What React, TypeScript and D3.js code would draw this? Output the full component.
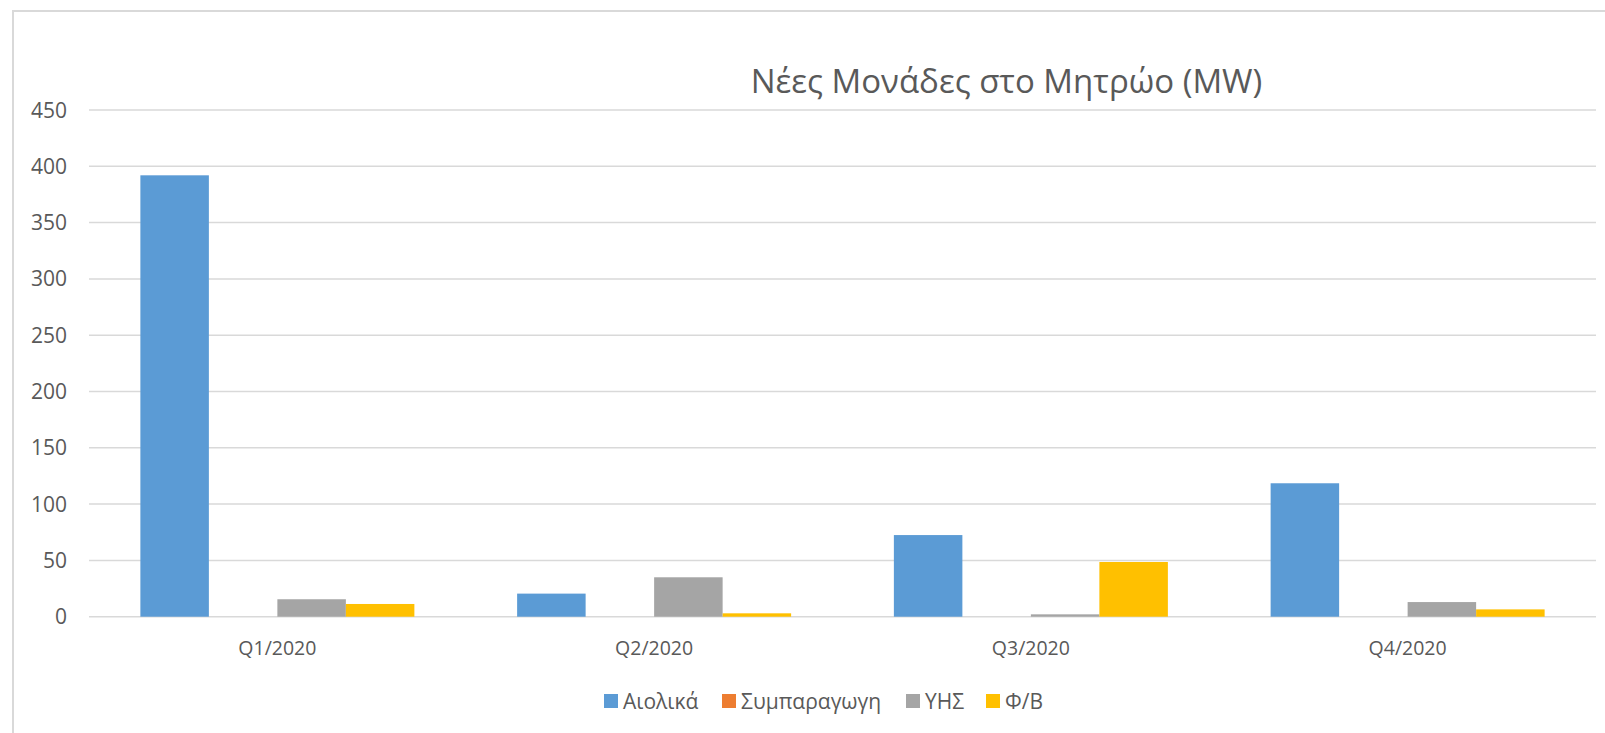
import React from 'react';
import * as d3 from 'd3';

const categories = ['Q1/2020', 'Q2/2020', 'Q3/2020', 'Q4/2020'];
const seriesNames = ['Αιολικά', 'Συμπαραγωγη', 'ΥΗΣ', 'Φ/Β'];
const seriesColors = ['#5B9BD5', '#ED7D31', '#A5A5A5', '#FFC000'];
const aiolika = [392, 20.5, 72.5, 118.5];
const symparagogi = [0, 0, 0, 0];
const yhs = [15.5, 35, 2.1, 13];
const fb = [11.3, 3, 48.6, 6.5];
const yTicks = [0, 50, 100, 150, 200, 250, 300, 350, 400, 450];

const values = [aiolika, symparagogi, yhs, fb];

const W = 1605;
const H = 733;
const dim = { l: 89, r: 1596, t: 110, b: 616.7 };
const FONT = '"Open Sans", sans-serif';
const TEXT = '#595959';

const App = () => {
	const x0 = d3.scaleBand().domain(categories).range([dim.l, dim.r]);
	const x1 = d3.scaleBand().domain(seriesNames).range([0, x0.bandwidth()]).paddingInner(0).paddingOuter(0.75);
	const y = d3.scaleLinear().domain([0, 450]).range([dim.b, dim.t]);

	// legend swatch positions
	const legendX = [604, 722, 906, 986];

	return (
		<svg width={W} height={H} style={{ position: 'absolute', left: 0, top: 0 }} fontFamily={FONT}>
			<rect x={0} y={0} width={W} height={H} fill="#fff" />
			<line x1={13} x2={W} y1={11} y2={11} stroke="#D9D9D9" strokeWidth={2} />
			<line x1={13} x2={13} y1={10} y2={H} stroke="#D9D9D9" strokeWidth={2} />

			<text x={1006.5} y={93} textAnchor="middle" fontSize={33} fill={TEXT}>
				Νέες Μονάδες στο Μητρώο (MW)
			</text>

			{yTicks.map((t) => (
				<g key={t}>
					<line x1={dim.l} x2={dim.r} y1={y(t)} y2={y(t)} stroke="#D9D9D9" strokeWidth={1.5} />
					<text x={67} y={y(t)} dy="0.36em" textAnchor="end" fontSize={21} fill={TEXT}>
						{t}
					</text>
				</g>
			))}

			{categories.map((c, ci) => (
				<g key={c}>
					{seriesNames.map((s, si) => (
						<rect
							key={s}
							x={x0(c) + x1(s)}
							y={y(values[si][ci])}
							width={x1.bandwidth()}
							height={dim.b - y(values[si][ci])}
							fill={seriesColors[si]}
						/>
					))}
					<text x={x0(c) + x0.bandwidth() / 2} y={655} textAnchor="middle" fontSize={19.5} fill={TEXT}>
						{c}
					</text>
				</g>
			))}

			{seriesNames.map((s, i) => (
				<g key={s} transform={`translate(${legendX[i]}, 694)`}>
					<rect x={0} y={0} width={14} height={14} fill={seriesColors[i]} />
					<text x={19} y={7} dy="0.36em" fontSize={21} fill={TEXT}>
						{s}
					</text>
				</g>
			))}
		</svg>
	);
};

export default App;
